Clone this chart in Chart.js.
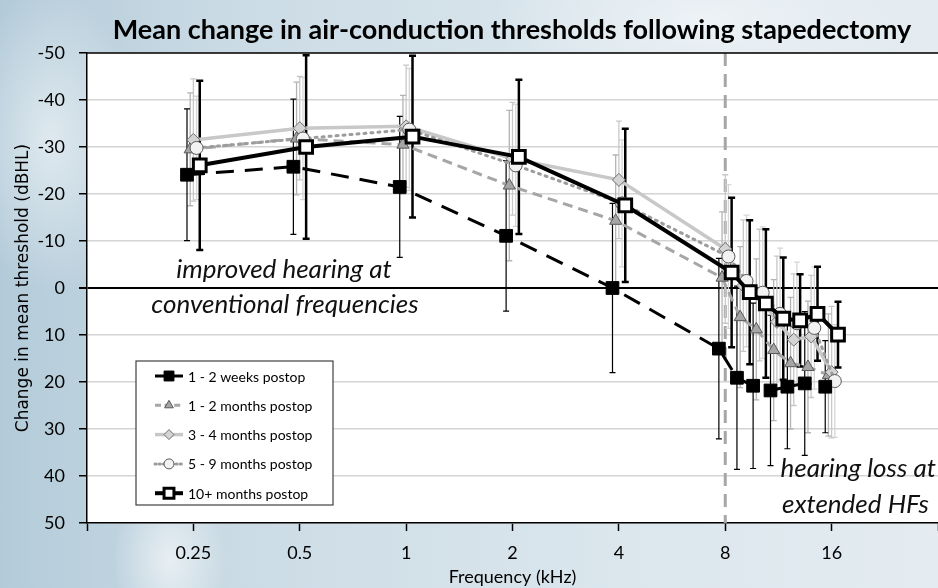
<!DOCTYPE html>
<html>
<head>
<meta charset="utf-8">
<script src="https://cdn.jsdelivr.net/npm/chart.js@4.4.1/dist/chart.umd.min.js"></script>
<style>
  html, body { margin: 0; padding: 0; overflow: hidden; }
  body {
    width: 938px; height: 588px;
    background:
      radial-gradient(ellipse 120px 220px at 50px 140px, rgba(255,255,255,0.55), rgba(255,255,255,0) 70%),
      radial-gradient(ellipse 80px 120px at 170px 560px, rgba(255,255,255,0.6), rgba(255,255,255,0) 70%),
      radial-gradient(ellipse 300px 120px at 700px 20px, rgba(255,255,255,0.45), rgba(255,255,255,0) 70%),
      linear-gradient(to right, #b3cbd9 0%, #cbdbe5 25%, #d9e5ec 60%, #e4ecf1 100%);
  }
  canvas { display: block; }
</style>
</head>
<body>
<canvas id="thresholdChart" width="938" height="588"></canvas>
<script>
// Tần số (kHz) và ngưỡng trung bình thay đổi (dBHL)
const freqs = [0.25, 0.5, 1, 2, 4, 8, 9, 10, 11.2, 12.5, 14, 16];
const xTicks = [0.125, 0.25, 0.5, 1, 2, 4, 8, 16, 32];
const yTicks = [-50, -40, -30, -20, -10, 0, 10, 20, 30, 40, 50];

const weeks1to2   = [-24.1, -25.8, -21.5, -11.1, 0.0, 12.9, 19.1, 20.8, 21.8, 21.0, 20.3, 21.0];
const weeks1to2Sd = [14, 14.4, 15, 16, 18, 19.2, 19.5, 17.6, 16, 13.2, 15.3, 9.8];

const months1to2   = [-29.5, -31.8, -30.5, -21.8, -14.3, -2.2, 6.2, 8.8, 13.2, 16.0, 16.8, 18.5];
const months1to2Sd = [12, 12, 10.5, 16, 14, 14, 15, 15, 15, 14, 14, 13];

const months3to4   = [-31.5, -34.0, -34.4, -27.5, -23.0, -8.3, -0.5, 1.5, 7.2, 11.0, 10.3, 17.9];
const months3to4Sd = [13, 11, 13, 12, 12.5, 15.8, 14, 14, 14, 14, 13, 14];

const months5to9   = [-29.8, -31.8, -33.7, -26.1, -18.0, -6.7, -1.5, 1.0, 5.5, 7.5, 8.5, 19.8];
const months5to9Sd = [11, 13, 13, 13, 13.5, 15.3, 14, 14, 14, 13, 13, 12];

const months10plus   = [-26.1, -30.0, -32.2, -27.9, -17.6, -3.3, 0.9, 3.3, 6.5, 6.9, 5.5, 9.9];
const months10plusSd = [18, 19.5, 17.2, 16.4, 16.3, 15.9, 15.3, 15.8, 13, 9.8, 10, 7];

// dịch nhẹ theo trục x (tính bằng octave) để các series không chồng lên nhau
function shifted(values, octaveShift) {
    return freqs.map((f, i) => ({ x: f * Math.pow(2, octaveShift), y: values[i] }));
}

const series = [
    {
        label: '1 - 2 weeks postop', data: shifted(weeks1to2, -0.06), sd: weeks1to2Sd,
        borderColor: '#000', borderWidth: 3, borderDash: [18, 11],
        pointStyle: 'rect', pointRadius: 9, backgroundColor: '#000', pointBorderColor: '#000', pointBorderWidth: 1,
        errColor: '#000', errWidth: 1.2, order: 1
    },
    {
        label: '1 - 2 months postop', data: shifted(months1to2, -0.03), sd: months1to2Sd,
        borderColor: '#a6a6a6', borderWidth: 3, borderDash: [10, 6],
        pointStyle: 'triangle', pointRadius: 7, backgroundColor: '#a6a6a6', pointBorderColor: '#595959', pointBorderWidth: 1,
        errColor: '#b4b4b4', errWidth: 1.3, order: 4
    },
    {
        label: '3 - 4 months postop', data: shifted(months3to4, 0), sd: months3to4Sd,
        borderColor: '#c8c8c8', borderWidth: 3.5, borderDash: [],
        pointStyle: 'rectRot', pointRadius: 6.5, backgroundColor: '#d4d4d4', pointBorderColor: '#6f6f6f', pointBorderWidth: 1,
        errColor: '#c8c8c8', errWidth: 1.3, order: 3
    },
    {
        label: '5 - 9 months postop', data: shifted(months5to9, 0.03), sd: months5to9Sd,
        borderColor: '#9c9c9c', borderWidth: 3, borderDash: [2, 5], borderCapStyle: 'round',
        pointStyle: 'circle', pointRadius: 6.5, backgroundColor: '#f2f2f2', pointBorderColor: '#595959', pointBorderWidth: 1,
        errColor: '#d6d6d6', errWidth: 1.3, order: 2
    },
    {
        label: '10+ months postop', data: shifted(months10plus, 0.06), sd: months10plusSd,
        borderColor: '#000', borderWidth: 4, borderDash: [],
        pointStyle: 'rect', pointRadius: 9, backgroundColor: '#fff', pointBorderColor: '#000', pointBorderWidth: 3,
        errColor: '#000', errWidth: 2.5, order: 0
    }
];

const overlayPlugin = {
    id: 'overlay',
    beforeDraw(chart) {
        const { ctx, chartArea: a } = chart;
        ctx.save();
        ctx.fillStyle = '#fff';
        ctx.fillRect(a.left, a.top, a.right - a.left, a.bottom - a.top);
        ctx.restore();
    },
    beforeDatasetsDraw(chart) {
        const { ctx, chartArea: a, scales } = chart;
        ctx.save();
        ctx.beginPath();
        ctx.rect(a.left, a.top, a.right - a.left, a.bottom - a.top);
        ctx.clip();

        // đường đứt nét tại 8 kHz
        const x8 = scales.x.getPixelForValue(8);
        ctx.strokeStyle = '#a6a6a6';
        ctx.lineWidth = 3;
        ctx.setLineDash([13, 8]);
        ctx.beginPath();
        ctx.moveTo(x8, a.top);
        ctx.lineTo(x8, a.bottom);
        ctx.stroke();
        ctx.setLineDash([]);

        // thanh sai số (±SD), vẽ từ nhẹ đến đậm
        [3, 2, 1, 0, 4].forEach(di => {
            const ds = chart.data.datasets[di];
            const meta = chart.getDatasetMeta(di);
            ctx.strokeStyle = ds.errColor;
            ctx.lineWidth = ds.errWidth;
            const cap = ds.errWidth > 2 ? 3.5 : 3;
            meta.data.forEach((pt, i) => {
                const v = ds.data[i].y, s = ds.sd[i];
                const y1 = scales.y.getPixelForValue(v - s);
                const y2 = scales.y.getPixelForValue(v + s);
                ctx.beginPath();
                ctx.moveTo(pt.x, y1); ctx.lineTo(pt.x, y2);
                ctx.moveTo(pt.x - cap, y1); ctx.lineTo(pt.x + cap, y1);
                ctx.moveTo(pt.x - cap, y2); ctx.lineTo(pt.x + cap, y2);
                ctx.stroke();
            });
        });
        ctx.restore();
    },
    afterDraw(chart) {
        const { ctx, chartArea: a } = chart;
        ctx.save();

        // viền trên
        ctx.strokeStyle = '#000';
        ctx.lineWidth = 1.5;
        ctx.beginPath();
        ctx.moveTo(a.left, a.top);
        ctx.lineTo(a.right, a.top);
        ctx.stroke();

        // tiêu đề
        ctx.fillStyle = '#000';
        ctx.font = "bold 27px Lato, sans-serif";
        ctx.textAlign = 'center';
        ctx.textBaseline = 'middle';
        ctx.fillText('Mean change in air-conduction thresholds following stapedectomy', 512, 30);

        // chú thích trong vùng biểu đồ
        ctx.font = "italic 26px Lato, sans-serif";
        ctx.fillStyle = '#111';
        ctx.fillText('improved hearing at', 284, a.top + 217);
        ctx.fillText('conventional frequencies', 285, a.top + 252);
        ctx.textAlign = 'right';
        ctx.fillText('hearing loss at', 936, a.top + 416);
        ctx.fillText('extended HFs', 929, a.top + 452);

        // chú giải
        const lx = a.left + 49, ly = a.top + 308;
        ctx.fillStyle = '#fff';
        ctx.fillRect(lx, ly, 197, 144);
        ctx.strokeStyle = '#404040';
        ctx.lineWidth = 1.2;
        ctx.strokeRect(lx, ly, 197, 144);
        const legendRadius = [7, 5, 5, 5, 7];
        chart.data.datasets.forEach((ds, i) => {
            const cy = ly + 15 + i * 29.3;
            ctx.strokeStyle = ds.borderColor;
            ctx.lineWidth = ds.borderWidth;
            ctx.lineCap = ds.borderCapStyle || 'butt';
            ctx.setLineDash(ds.borderDash.length ? ds.borderDash.map(d => d * 0.6) : []);
            ctx.beginPath();
            ctx.moveTo(lx + 19, cy);
            ctx.lineTo(lx + 47, cy);
            ctx.stroke();
            ctx.setLineDash([]);
            ctx.lineCap = 'butt';
            ctx.fillStyle = ds.backgroundColor;
            ctx.strokeStyle = ds.pointBorderColor;
            ctx.lineWidth = ds.pointBorderWidth;
            Chart.helpers.drawPoint(ctx, {
                pointStyle: ds.pointStyle, radius: legendRadius[i], rotation: 0, borderWidth: ds.pointBorderWidth
            }, lx + 33, cy);
            ctx.fillStyle = '#000';
            ctx.font = "14px Lato, sans-serif";
            ctx.textAlign = 'left';
            ctx.textBaseline = 'middle';
            ctx.fillText(ds.label, lx + 52, cy + 1);
        });
        ctx.restore();
    }
};

new Chart(document.getElementById('thresholdChart'), {
    type: 'line',
    data: {
        datasets: series.map(s => Object.assign({
            fill: false,
            tension: 0,
            pointBackgroundColor: s.backgroundColor,
            pointHoverRadius: s.pointRadius
        }, s))
    },
    options: {
        responsive: false,
        animation: false,
        layout: { autoPadding: false, padding: { top: 53, right: 0, left: 0, bottom: 0 } },
        plugins: {
            legend: { display: false },
            tooltip: { enabled: false }
        },
        scales: {
            x: {
                type: 'logarithmic',
                min: 0.125,
                max: 32,
                afterBuildTicks: scale => { scale.ticks = xTicks.map(v => ({ value: v })); },
                afterFit: scale => {
                    scale.height = 65;
                    scale.paddingLeft = 0;
                    scale.paddingRight = 0;
                },
                ticks: {
                    autoSkip: false,
                    maxRotation: 0,
                    padding: 11,
                    color: '#000',
                    font: { family: 'Lato, sans-serif', size: 18 },
                    callback: v => (v === 0.125 || v === 32) ? '' : String(v)
                },
                grid: { drawOnChartArea: false, tickLength: 8, tickColor: '#000', tickWidth: 1.5 },
                border: { color: '#000', width: 1.5 },
                title: {
                    display: true,
                    text: 'Frequency (kHz)',
                    color: '#000',
                    font: { family: 'Lato, sans-serif', size: 18 },
                    padding: { top: 0, bottom: 0 }
                }
            },
            y: {
                type: 'linear',
                reverse: true,
                min: -50,
                max: 50,
                afterBuildTicks: scale => { scale.ticks = yTicks.map(v => ({ value: v })); },
                afterFit: scale => { scale.width = 87; },
                ticks: {
                    padding: 14,
                    color: '#000',
                    font: { family: 'Lato, sans-serif', size: 18 }
                },
                grid: {
                    tickLength: 8,
                    tickColor: '#000',
                    color: ctx => ctx.tick && ctx.tick.value === 0 ? '#000' : '#d4d4d4',
                    lineWidth: ctx => ctx.tick && ctx.tick.value === 0 ? 2 : 1.5
                },
                border: { color: '#000', width: 1.5 },
                title: {
                    display: true,
                    text: 'Change in mean threshold (dBHL)',
                    color: '#000',
                    font: { family: 'DejaVu Sans, sans-serif', size: 17 },
                    padding: { top: 13, bottom: 0 }
                }
            }
        }
    },
    plugins: [overlayPlugin]
});
</script>
</body>
</html>
